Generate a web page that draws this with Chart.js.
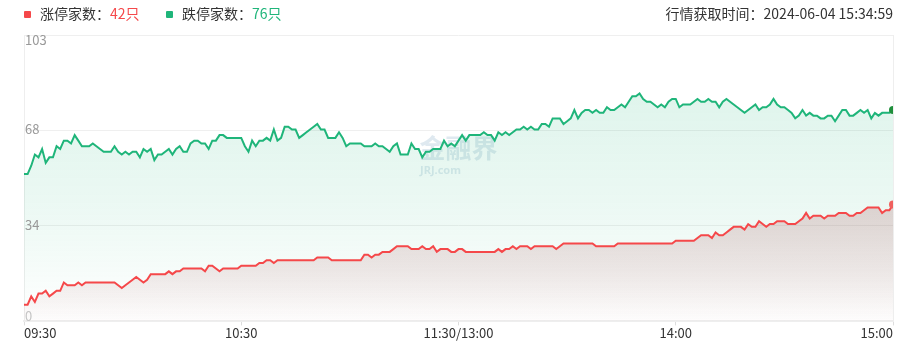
<!DOCTYPE html>
<html>
<head>
<meta charset="utf-8">
<script src="https://cdn.jsdelivr.net/npm/chart.js@4.4.1/dist/chart.umd.min.js"></script>
<style>
body { margin: 0; background: #fff; font-family: "Noto Sans CJK SC", "Noto Sans", sans-serif; }
#wrap { position: relative; width: 910px; height: 360px; }
canvas { position: absolute; left: 0; top: 0; }
.leg { position: absolute; top: 2px; font-size: 14px; line-height: 22px; color: #333; white-space: nowrap; z-index: 2; }
.sq { display: inline-block; width: 7px; height: 7px; border-radius: 1px; margin-right: 9px; vertical-align: middle; position: relative; top: -1px; }
#time { position: absolute; right: 17px; top: 2px; font-size: 14px; line-height: 22px; color: #333; z-index: 2; }
</style>
</head>
<body>
<div id="wrap">
  <canvas id="chart" width="910" height="360"></canvas>
  <div class="leg" style="left:24px"><span class="sq" style="background:#f5484a"></span>涨停家数：<span id="upNum" style="color:#f5484a"></span></div>
  <div class="leg" style="left:166px"><span class="sq" style="background:#1fb57a"></span>跌停家数：<span id="downNum" style="color:#1fb57a"></span></div>
  <div id="time">行情获取时间：2024-06-04 15:34:59</div>
</div>
<script>
const tickLabels = ['09:30', '10:30', '11:30/13:00', '14:00', '15:00'];
const tickIndex = [0, 60, 120, 180, 240];
const yTickLabels = ['0', '34', '68', '103'];
const yMax = 103;

// 涨停家数, one value per minute
const upCount = [
  6, 6, 9, 7, 10, 10, 11, 9, 10, 11,
  11, 14, 13, 13, 13, 14, 13, 14, 14, 14,
  14, 14, 14, 14, 14, 14, 13, 12, 13, 14,
  15, 16, 15, 14, 15, 17, 17, 17, 17, 17,
  18, 17, 18, 18, 19, 19, 19, 19, 19, 19,
  18, 20, 20, 19, 18, 19, 19, 19, 19, 19,
  20, 20, 20, 20, 20, 21, 21, 22, 22, 21,
  22, 22, 22, 22, 22, 22, 22, 22, 22, 22,
  22, 23, 23, 23, 23, 22, 22, 22, 22, 22,
  22, 22, 22, 22, 24, 24, 23, 24, 24, 25,
  25, 25, 26, 27, 27, 27, 27, 26, 26, 26,
  27, 26, 26, 27, 25, 26, 26, 26, 25, 25,
  26, 26, 25, 25, 25, 25, 25, 25, 25, 25,
  25, 26, 25, 26, 26, 27, 26, 27, 27, 27,
  26, 27, 27, 27, 27, 27, 27, 26, 27, 28,
  28, 28, 28, 28, 28, 28, 28, 28, 27, 27,
  27, 27, 27, 27, 28, 28, 28, 28, 28, 28,
  28, 28, 28, 28, 28, 28, 28, 28, 28, 28,
  29, 29, 29, 29, 29, 29, 30, 31, 31, 31,
  30, 32, 31, 31, 32, 33, 34, 34, 34, 33,
  35, 34, 34, 36, 35, 34, 35, 35, 36, 36,
  36, 35, 35, 35, 36, 37, 39, 37, 38, 38,
  38, 37, 38, 38, 38, 39, 39, 39, 38, 38,
  39, 39, 40, 41, 41, 41, 41, 39, 40, 40,
  42
];

// 跌停家数, one value per minute
const downCount = [
  53, 53, 56, 60, 59, 62, 57, 59, 59, 63,
  62, 65, 65, 64, 67, 65, 63, 63, 63, 64,
  63, 62, 61, 61, 61, 63, 61, 60, 61, 60,
  61, 61, 59, 62, 61, 62, 58, 60, 60, 61,
  62, 60, 62, 63, 61, 61, 64, 65, 65, 64,
  64, 62, 65, 65, 67, 67, 66, 66, 66, 66,
  66, 63, 61, 65, 63, 65, 65, 66, 65, 69,
  65, 66, 70, 70, 69, 69, 66, 67, 68, 69,
  70, 71, 69, 69, 66, 66, 66, 68, 66, 63,
  64, 64, 64, 64, 63, 63, 63, 64, 63, 63,
  62, 61, 63, 64, 60, 60, 60, 64, 62, 62,
  59, 61, 61, 62, 62, 62, 65, 63, 64, 63,
  65, 67, 65, 67, 67, 67, 67, 68, 67, 67,
  65, 68, 67, 68, 67, 68, 69, 69, 70, 69,
  70, 69, 69, 71, 71, 70, 73, 73, 73, 71,
  72, 73, 76, 73, 75, 76, 76, 75, 76, 75,
  75, 77, 76, 76, 77, 78, 77, 79, 81, 81,
  82, 80, 79, 79, 78, 77, 78, 77, 79, 80,
  80, 77, 78, 78, 78, 79, 80, 79, 79, 80,
  79, 79, 77, 79, 80, 79, 78, 77, 76, 75,
  76, 77, 78, 76, 77, 77, 78, 80, 78, 77,
  77, 76, 75, 73, 74, 76, 74, 75, 74, 74,
  73, 73, 74, 74, 72, 74, 76, 76, 74, 74,
  75, 76, 75, 76, 73, 75, 74, 75, 75, 75,
  76
];

document.getElementById('upNum').textContent = upCount[upCount.length - 1] + '只';
document.getElementById('downNum').textContent = downCount[downCount.length - 1] + '只';

const lastIdx = upCount.length - 1;

function gradFill(rgb, aTop, aBottom, fromValue) {
  return (ctx) => {
    const chart = ctx.chart;
    const area = chart.chartArea;
    if (!area) return null;
    const top = fromValue == null ? area.top : chart.scales.y.getPixelForValue(fromValue);
    const g = chart.ctx.createLinearGradient(0, top, 0, area.bottom);
    g.addColorStop(0, `rgba(${rgb},${aTop})`);
    g.addColorStop(0.6, `rgba(${rgb},${(aTop * 0.5).toFixed(3)})`);
    g.addColorStop(1, `rgba(${rgb},${aBottom})`);
    return g;
  };
}

// y labels sit inside the plot, first and last kept inside the area
const yLabelPlugin = {
  id: 'yLabels',
  afterDraw(chart) {
    const { ctx, chartArea, scales } = chart;
    ctx.save();
    ctx.font = '13px "Noto Sans CJK SC", "Noto Sans", sans-serif';
    ctx.textAlign = 'left';
    yTickLabels.forEach((lab, k) => {
      const y = scales.y.getPixelForValue(yMax * k / 3);
      ctx.fillStyle = k === 0 ? '#c4c4c4' : '#999';
      if (k === yTickLabels.length - 1) {
        ctx.textBaseline = 'top';
        ctx.fillText(lab, chartArea.left + 1, y - 1);
      } else if (k === 0) {
        ctx.textBaseline = 'bottom';
        ctx.fillText(lab, chartArea.left + 1, y + 1);
      } else {
        ctx.textBaseline = 'middle';
        ctx.fillText(lab, chartArea.left + 1, y - 1);
      }
    });
    ctx.restore();
  }
};

const watermark = {
  id: 'watermark',
  beforeDatasetsDraw(chart) {
    const { ctx, chartArea } = chart;
    const cx = (chartArea.left + chartArea.right) / 2;
    ctx.save();
    ctx.fillStyle = 'rgba(140, 175, 200, 0.28)';
    ctx.textAlign = 'center';
    ctx.textBaseline = 'middle';
    ctx.font = 'bold 26px "Noto Sans CJK SC", sans-serif';
    ctx.fillText('金融界', cx, 148);
    ctx.font = 'bold 11px "Noto Sans", sans-serif';
    ctx.fillText('JRJ.com', cx - 18, 171);
    ctx.restore();
  }
};

new Chart(document.getElementById('chart').getContext('2d'), {
  type: 'line',
  data: {
    labels: upCount.map((_, i) => i),
    datasets: [{
      label: '涨停家数',
      data: upCount.map((v, i) => ({ x: i, y: v })),
      borderColor: '#f5484a',
      borderWidth: 2,
      tension: 0,
      fill: 'origin',
      backgroundColor: gradFill('165, 85, 90', 0.24, 0.01, Math.max(...upCount)),
      pointRadius: (c) => c.dataIndex === lastIdx ? 4 : 0,
      pointBackgroundColor: '#f0605e',
      pointBorderWidth: 0
    }, {
      label: '跌停家数',
      data: downCount.map((v, i) => ({ x: i, y: v })),
      borderColor: '#1fb57a',
      borderWidth: 2,
      tension: 0,
      fill: 'origin',
      backgroundColor: gradFill('31, 181, 122', 0.17, 0.0),
      pointRadius: (c) => c.dataIndex === lastIdx ? 4 : 0,
      pointBackgroundColor: '#1f8f3c',
      pointBorderWidth: 0
    }]
  },
  options: {
    responsive: false,
    animation: false,
    events: [],
    layout: { padding: { left: 24, right: 17, top: 35, bottom: 19 } },
    plugins: {
      legend: { display: false },
      tooltip: { enabled: false }
    },
    scales: {
      x: {
        type: 'linear',
        min: 0,
        max: lastIdx,
        afterBuildTicks: (scale) => { scale.ticks = tickIndex.map(v => ({ value: v })); },
        grid: {
          drawOnChartArea: true,
          color: (c) => (c.index === 0 || c.index === tickIndex.length - 1) ? '#eeeeee' : 'rgba(0,0,0,0)',
          tickColor: '#dddddd',
          tickLength: 4
        },
        border: { display: true, color: '#eeeeee', width: 2 },
        ticks: {
          align: 'inner',
          maxRotation: 0,
          autoSkip: false,
          padding: 0,
          color: '#333',
          font: { size: 13, family: '"Noto Sans CJK SC", "Noto Sans", sans-serif' },
          callback: (v, i) => tickLabels[i]
        }
      },
      y: {
        min: 0,
        max: yMax,
        afterBuildTicks: (scale) => { scale.ticks = yTickLabels.map((_, k) => ({ value: yMax * k / 3 })); },
        grid: { color: '#efefef', drawTicks: false },
        border: { display: false },
        ticks: { display: false }
      }
    }
  },
  plugins: [watermark, yLabelPlugin]
});
</script>
</body>
</html>
